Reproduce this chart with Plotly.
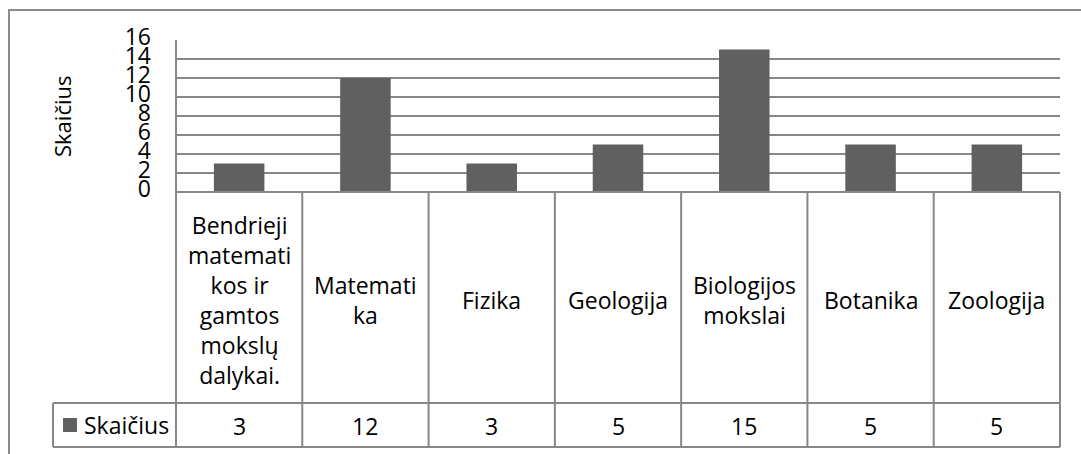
import plotly.graph_objects as go

# Data
kategorijos = [
    "Bendrieji matematikos ir gamtos mokslų dalykai.",
    "Matematika",
    "Fizika",
    "Geologija",
    "Biologijos mokslai",
    "Botanika",
    "Zoologija",
]
# header text of the data table, wrapped as in the cell
antrastes = [
    "Bendrieji<br>matemati<br>kos ir<br>gamtos<br>mokslų<br>dalykai.",
    "Matemati<br>ka",
    "Fizika",
    "Geologija",
    "Biologijos<br>mokslai",
    "Botanika",
    "Zoologija",
]
skaicius = [3, 12, 3, 5, 15, 5, 5]
serija = "Skaičius"
y_ticks = [0, 2, 4, 6, 8, 10, 12, 14, 16]

# Layout constants (pixels)
W, H = 1081, 454
L, R, T, B = 176, 1060, 40, 192
FONT = "Open Sans"
FS = 23
LINE = "#878787"
BAR = "#606060"


def px(x):
    return (x - L) / (R - L)


def py(y):
    return (B - y) / (B - T)


fig = go.Figure(
    go.Bar(
        x=kategorijos,
        y=skaicius,
        width=0.4,
        marker=dict(color=BAR, line=dict(width=0)),
        name=serija,
        showlegend=False,
    )
)

shapes = []


def hline(x0, x1, y):
    shapes.append(dict(type="line", xref="paper", yref="paper",
                       x0=px(x0), x1=px(x1), y0=py(y), y1=py(y),
                       line=dict(color=LINE, width=2)))


def vline(x, y0, y1):
    shapes.append(dict(type="line", xref="paper", yref="paper",
                       x0=px(x), x1=px(x), y0=py(y0), y1=py(y1),
                       line=dict(color=LINE, width=2)))


# outer chart frame
shapes.append(dict(type="rect", xref="paper", yref="paper",
                   x0=px(9), x1=px(1090), y0=py(10), y1=py(470),
                   line=dict(color="#8c8c8c", width=2)))

# data table grid
n = len(kategorijos)
col_w = (R - L) / n
row_sep, tbl_bottom, leg_left = 403, 447, 53
hline(L, R, B)
hline(leg_left, R, row_sep)
hline(leg_left, R, tbl_bottom)
vline(L, T, tbl_bottom)
vline(leg_left, row_sep, tbl_bottom)
for i in range(1, n + 1):
    vline(L + i * col_w, B, tbl_bottom)

# legend key in the table
shapes.append(dict(type="rect", xref="paper", yref="paper",
                   x0=px(63), x1=px(77), y0=py(432), y1=py(418),
                   line=dict(width=0), fillcolor=BAR))

annotations = []
for kat, txt, v in zip(kategorijos, antrastes, skaicius):
    annotations.append(dict(x=kat, xref="x", y=py(300), yref="paper",
                            text=txt, showarrow=False, xanchor="center",
                            yanchor="middle", align="center",
                            font=dict(family=FONT, size=FS, color="black")))
    annotations.append(dict(x=kat, xref="x", y=py(426), yref="paper",
                            text=str(v), showarrow=False, xanchor="center",
                            yanchor="middle",
                            font=dict(family=FONT, size=FS, color="black")))

annotations.append(dict(x=px(82), xref="paper", y=py(425), yref="paper",
                        text=serija, showarrow=False, xanchor="left",
                        yanchor="middle",
                        font=dict(family=FONT, size=FS, color="black")))

# y axis title
annotations.append(dict(x=px(62), xref="paper", y=py(116), yref="paper",
                        text=serija, showarrow=False, textangle=-90,
                        xanchor="center", yanchor="middle",
                        font=dict(family=FONT, size=FS - 1, color="black")))

fig.update_layout(
    width=W, height=H, autosize=False,
    margin=dict(l=L, r=W - R, t=T, b=H - B, pad=0),
    paper_bgcolor="white", plot_bgcolor="white",
    shapes=shapes, annotations=annotations,
    bargap=0.6,
    xaxis=dict(showticklabels=False, showgrid=False, zeroline=False,
               showline=False, ticks="", range=[-0.5, n - 0.5]),
    yaxis=dict(range=[0, 16], tickvals=y_ticks, showgrid=True,
               gridcolor=LINE, gridwidth=2, zeroline=False, showline=False,
               ticks="", ticklabelstandoff=24, ticklabelshift=-3,
               tickfont=dict(family=FONT, size=FS, color="black")),
)

fig.write_html("out.html")
